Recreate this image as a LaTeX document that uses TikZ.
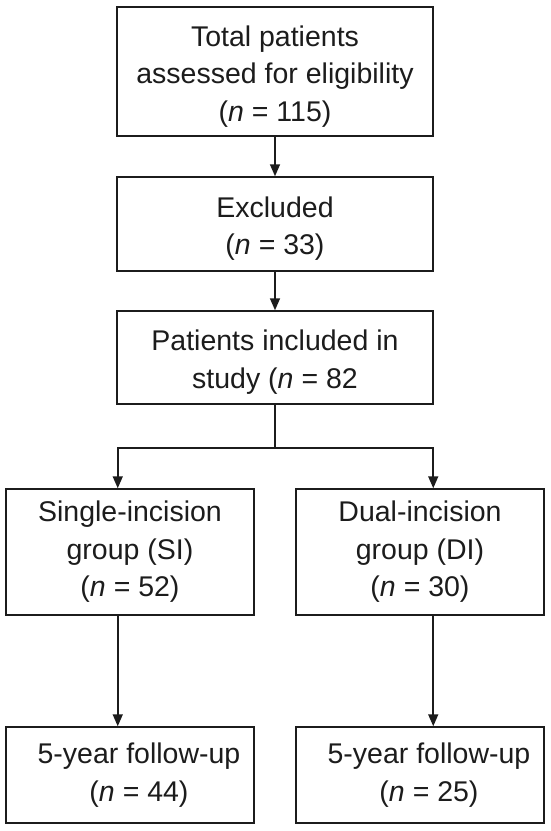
\documentclass[tikz,border=0pt]{standalone}
\usepackage{fontspec}
\setmainfont{Liberation Sans}
\usetikzlibrary{arrows.meta,positioning}
\definecolor{ink}{RGB}{28,28,28}
\newcommand\lift{\rule{0pt}{30pt}}
\tikzset{
  box/.style={draw=ink, line width=1.5pt, text=ink, fill=white,
              font=\fontsize{28.5}{37.5}\selectfont, align=center, inner sep=0pt,
              minimum width=316pt},
  groupbox/.style={box, minimum width=248pt, minimum height=126pt},
  fubox/.style={box, minimum width=248pt, minimum height=96pt},
  link/.style={ink, line width=1.6pt},
  flow/.style={link, -{Triangle[length=12pt,width=10pt]}},
}
\begin{document}
\begin{tikzpicture}[x=1pt,y=-1pt]
  \useasboundingbox (0,0) rectangle (550,831);
  % screening
  \node[box, minimum height=129pt] (total) at (275,71.5)
    {\lift Total patients\\assessed for eligibility\\(\textit{n} = 115)};
  \node[box, minimum height=94pt] (excl) at (275,224)
    {\lift Excluded\\(\textit{n} = 33)};
  \node[box, minimum height=93pt] (incl) at (275,357.5)
    {\lift Patients included in\\study (\textit{n} = 82};
  % groups
  \node[groupbox] (si) at (130,552)
    {Single-incision\\group (SI)\\(\textit{n} = 52)};
  \node[groupbox] (di) at (420,552)
    {Dual-incision\\group (DI)\\(\textit{n} = 30)};
  % follow-up
  \node[fubox] (fusi) at (130,775)
    {\hspace*{18pt}5-year follow-up\\\hspace*{18pt}(\textit{n} = 44)};
  \node[fubox] (fudi) at (420,775)
    {\hspace*{18pt}5-year follow-up\\\hspace*{18pt}(\textit{n} = 25)};
  \coordinate (split) at (275,448);
  \coordinate (lane l) at ([xshift=1.5pt]incl.south west);
  \coordinate (lane r) at ([xshift=-0.5pt]incl.south east);
  \draw[flow] (total) -- (excl);
  \draw[flow] (excl) -- (incl);
  \draw[link] (incl.south) -- (split);
  \draw[flow] (split) -| (si.north -| lane l);
  \draw[flow] (split) -| (di.north -| lane r);
  \draw[flow] (si.south -| lane l) -- (fusi.north -| lane l);
  \draw[flow] (di.south -| lane r) -- (fudi.north -| lane r);
\end{tikzpicture}
\end{document}
